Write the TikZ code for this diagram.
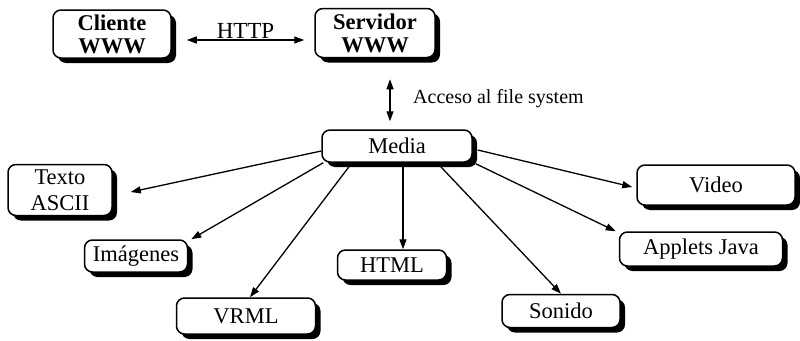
\documentclass[tikz,border=0pt]{standalone}
\usepackage{fontspec}
\setmainfont{Liberation Serif}
\usetikzlibrary{arrows.meta,shadows}
\begin{document}
\begin{tikzpicture}[x=1pt,y=-1pt,
  box/.style={draw=black, line width=1.5pt, rounded corners=8pt, fill=white,
    general shadow={fill=black, shadow xshift=5pt, shadow yshift=-5pt},
    align=center, inner sep=0pt, font=\fontsize{22.5}{26}\selectfont},
  boldbox/.style={box, font=\bfseries\fontsize{22.5}{23}\selectfont},
  arr/.style={line width=1.3pt, -{Triangle[length=10pt,width=7pt]}},
  dbl/.style={line width=1.3pt, {Triangle[length=10pt,width=7pt]}-{Triangle[length=10pt,width=7pt]}},
  lbl/.style={font=\fontsize{20}{24}\selectfont, inner sep=1pt}]
\useasboundingbox (0,0) rectangle (800,340);
\node[boldbox, minimum width=118pt, minimum height=48pt] (cliente) at (112,34) {Cliente\\WWW};
\node[boldbox, minimum width=120pt, minimum height=49pt] (servidor) at (375,33) {Servidor\\WWW};
\node[box, minimum width=150pt, minimum height=32pt] (media) at (397,146) {Media};
\node[box, minimum width=104pt, minimum height=51pt] (texto) at (60,190) {Texto\\ASCII};
\node[box, minimum width=103pt, minimum height=32pt] (imagenes) at (136,256) {Imágenes};
\node[box, minimum width=139pt, minimum height=36pt] (vrml) at (246,316) {VRML};
\node[box, minimum width=109pt, minimum height=30pt] (html) at (392,265) {HTML};
\node[box, minimum width=118pt, minimum height=33pt] (sonido) at (561,311) {Sonido};
\node[box, minimum width=163pt, minimum height=34pt] (applets) at (701,249) {Applets Java};
\node[box, minimum width=158pt, minimum height=40pt] (video) at (716,185) {Video};

\coordinate (h1) at ([xshift=15pt,yshift=-6pt]cliente.east);
\coordinate (h2) at ([xshift=-10pt]servidor.west |- h1);
\draw[dbl] (h1) -- node[above, inner sep=0.5pt, font=\fontsize{23}{26}\selectfont] (http) {HTTP} (h2);

\coordinate (a1) at ([xshift=15pt,yshift=-21pt]servidor.south);
\coordinate (a2) at ([yshift=8pt]media.north -| a1);
\draw[dbl] (a1) -- (a2);
\node[lbl, anchor=west] (acceso) at ([xshift=37pt,yshift=-40pt]servidor.south) {Acceso al file system};

\draw[arr] ([yshift=-5pt]media.west) -- ([xshift=18pt,yshift=-2pt]texto.east);
\draw[arr] ([xshift=2pt]media.south west) -- ([xshift=3pt]imagenes.north east);
\draw[arr] ([xshift=-45pt]media.south) -- ([xshift=4pt]vrml.north);
\coordinate (m4) at ([xshift=6pt]media.south);
\draw[arr] (m4) -- (m4 |- html.north);
\draw[arr] ([xshift=40pt]media.south) -- (sonido.north);
\draw[arr] ([xshift=3pt,yshift=-1pt]media.south east) -- ([xshift=-3pt]applets.north west);
\draw[arr] ([xshift=5pt,yshift=-4pt]media.east) -- ([xshift=-4pt,yshift=-2pt]video.west);
\end{tikzpicture}
\end{document}
